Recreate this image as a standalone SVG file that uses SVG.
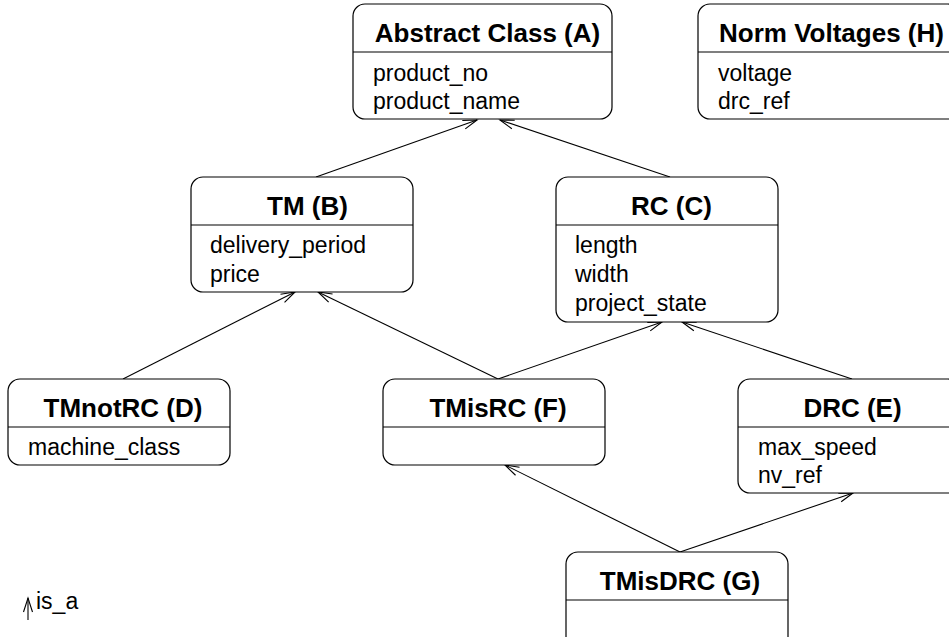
<svg xmlns="http://www.w3.org/2000/svg" width="949" height="637" viewBox="0 0 949 637">
<style>
.box{fill:#fff;stroke:#000;stroke-width:1.2}
.sep{stroke:#000;stroke-width:1.2}
.t{font-family:"Liberation Sans",Arial,sans-serif;font-weight:bold;font-size:26px;text-anchor:middle;fill:#000}
.a{font-family:"Liberation Sans",Arial,sans-serif;font-size:23px;fill:#000}
.c{stroke:#000;stroke-width:1.1;fill:none;marker-end:url(#arr)}
</style>
<defs>
<marker id="arr" markerUnits="userSpaceOnUse" markerWidth="20" markerHeight="20" viewBox="-16 -8 20 16" refX="0" refY="0" orient="auto">
<path d="M-14,-4.5 L0,0 L-14,4.5" fill="none" stroke="#000" stroke-width="1.1"/>
</marker>
</defs>
<g id="connectors">
<line class="c" x1="316" y1="177" x2="477" y2="120"/>
<line class="c" x1="670" y1="177" x2="500" y2="120"/>
<line class="c" x1="123" y1="379" x2="295" y2="292"/>
<line class="c" x1="498" y1="379" x2="318" y2="292"/>
<line class="c" x1="498" y1="379" x2="662" y2="322"/>
<line class="c" x1="852" y1="379" x2="682" y2="322"/>
<line class="c" x1="680" y1="552" x2="505" y2="465"/>
<line class="c" x1="680" y1="552" x2="853" y2="493"/>
</g>
<g id="nodeA">
<rect class="box" x="353" y="4" width="259" height="115" rx="12"/>
<line class="sep" x1="353" y1="52" x2="612" y2="52"/>
<text class="t" x="487.5" y="42">Abstract Class (A)</text>
<text class="a" x="373" y="81">product_no</text>
<text class="a" x="373" y="109">product_name</text>
</g>
<g id="nodeH">
<rect class="box" x="698" y="4" width="262" height="115" rx="12"/>
<line class="sep" x1="698" y1="52" x2="960" y2="52"/>
<text class="t" x="831.5" y="42">Norm Voltages (H)</text>
<text class="a" x="718" y="81">voltage</text>
<text class="a" x="718" y="109">drc_ref</text>
</g>
<g id="nodeB">
<rect class="box" x="191" y="177" width="222" height="115" rx="12"/>
<line class="sep" x1="191" y1="225" x2="413" y2="225"/>
<text class="t" x="307.5" y="215">TM (B)</text>
<text class="a" x="210" y="253">delivery_period</text>
<text class="a" x="210" y="282">price</text>
</g>
<g id="nodeC">
<rect class="box" x="556" y="177" width="222" height="145" rx="12"/>
<line class="sep" x1="556" y1="225" x2="778" y2="225"/>
<text class="t" x="671.5" y="215">RC (C)</text>
<text class="a" x="575" y="253">length</text>
<text class="a" x="575" y="282">width</text>
<text class="a" x="575" y="311">project_state</text>
</g>
<g id="nodeD">
<rect class="box" x="8" y="379" width="222" height="86" rx="12"/>
<line class="sep" x1="8" y1="427" x2="230" y2="427"/>
<text class="t" x="123" y="417">TMnotRC (D)</text>
<text class="a" x="28" y="455">machine_class</text>
</g>
<g id="nodeF">
<rect class="box" x="383" y="379" width="222" height="86" rx="12"/>
<line class="sep" x1="383" y1="427" x2="605" y2="427"/>
<text class="t" x="498" y="417">TMisRC (F)</text>
</g>
<g id="nodeE">
<rect class="box" x="738" y="379" width="222" height="114" rx="12"/>
<line class="sep" x1="738" y1="427" x2="960" y2="427"/>
<text class="t" x="852.5" y="417">DRC (E)</text>
<text class="a" x="758" y="455">max_speed</text>
<text class="a" x="758" y="483">nv_ref</text>
</g>
<g id="nodeG">
<rect class="box" x="566" y="552" width="222" height="100" rx="12"/>
<line class="sep" x1="566" y1="600" x2="788" y2="600"/>
<text class="t" x="680" y="590">TMisDRC (G)</text>
</g>
<g id="legend">
<line class="c" x1="28" y1="620" x2="28" y2="598"/>
<text class="a" x="36" y="609">is_a</text>
</g>
</svg>
